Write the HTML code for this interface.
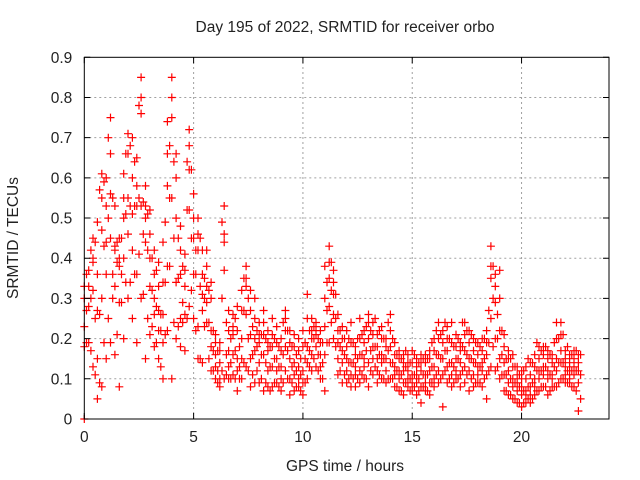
<!DOCTYPE html>
<html><head><meta charset="utf-8">
<style>
html,body{margin:0;padding:0;background:#fff;}
svg{display:block;font-family:"Liberation Sans",Arial,sans-serif;}
</style></head>
<body>
<svg id="chart" width="640" height="480" viewBox="0 0 640 480" xmlns="http://www.w3.org/2000/svg">
<rect x="0" y="0" width="640" height="480" fill="#fff"/>
<text x="345" y="32" font-size="15.5" text-anchor="middle" fill="#222">Day 195 of 2022, SRMTID for receiver orbo</text>
<text x="345" y="471" font-size="15.5" text-anchor="middle" fill="#222">GPS time / hours</text>
<text x="0" y="0" font-size="15.5" text-anchor="middle" fill="#222" transform="translate(18,238) rotate(-90)">SRMTID / TECUs</text>
<g id="grid"></g>
<g id="marks"></g>
<rect x="84.3" y="57.3" width="524.7" height="361.7" fill="none" stroke="#000" stroke-width="1"/>
<g id="ticks"></g>
</svg>
<script>
const xTicks = [0, 5, 10, 15, 20];
const yTicks = [0, 0.1, 0.2, 0.3, 0.4, 0.5, 0.6, 0.7, 0.8, 0.9];
const hours = [0.0,0.2,0.4,0.6,0.8,1.0,1.2,1.4,1.6,1.8,2.0,2.2,2.4,2.6,2.8,3.0,3.2,3.4,3.6,3.8,4.0,4.2,4.4,4.6,4.8,5.0,5.2,5.4,5.6,5.8,6.0,6.2,6.4,6.6,6.8,7.0,7.2,7.4,7.6,7.8,8.0,8.2,8.4,8.6,8.8,9.0,9.2,9.4,9.6,9.8,10.0,10.2,10.4,10.6,10.8,11.0,11.2,11.4,11.6,11.8,12.0,12.2,12.4,12.6,12.8,13.0,13.2,13.4,13.6,13.8,14.0,14.2,14.4,14.6,14.8,15.0,15.2,15.4,15.6,15.8,16.0,16.2,16.4,16.6,16.8,17.0,17.2,17.4,17.6,17.8,18.0,18.2,18.4,18.6,18.8,19.0,19.2,19.4,19.6,19.8,20.0,20.2,20.4,20.6,20.8,21.0,21.2,21.4,21.6,21.8,22.0,22.2,22.4,22.6];
const srmtidHigh = [0.23,0.37,0.45,0.49,0.61,0.60,0.75,0.53,0.45,0.61,0.71,0.70,0.65,0.85,0.58,0.52,0.42,0.39,0.44,0.74,0.85,0.66,0.48,0.41,0.72,0.56,0.50,0.42,0.42,0.34,0.21,0.19,0.53,0.27,0.26,0.28,0.32,0.38,0.32,0.30,0.24,0.27,0.22,0.25,0.23,0.20,0.27,0.22,0.21,0.20,0.22,0.31,0.25,0.24,0.22,0.38,0.43,0.37,0.26,0.23,0.22,0.24,0.18,0.25,0.22,0.26,0.24,0.21,0.23,0.20,0.26,0.19,0.17,0.16,0.16,0.17,0.15,0.16,0.16,0.17,0.20,0.24,0.22,0.23,0.24,0.21,0.19,0.24,0.22,0.20,0.19,0.20,0.22,0.43,0.36,0.37,0.21,0.17,0.16,0.13,0.12,0.13,0.14,0.16,0.18,0.18,0.17,0.16,0.24,0.24,0.17,0.16,0.17,0.16];
const srmtidUpper = [0.30,0.33,0.40,0.36,0.55,0.44,0.66,0.43,0.40,0.55,0.66,0.60,0.58,0.80,0.53,0.46,0.36,0.33,0.34,0.66,0.80,0.60,0.42,0.37,0.68,0.50,0.46,0.36,0.38,0.30,0.19,0.17,0.46,0.22,0.23,0.22,0.27,0.35,0.27,0.25,0.21,0.24,0.19,0.21,0.19,0.17,0.25,0.19,0.18,0.17,0.18,0.25,0.22,0.23,0.19,0.30,0.39,0.34,0.22,0.20,0.18,0.19,0.16,0.20,0.19,0.24,0.21,0.18,0.20,0.18,0.22,0.16,0.15,0.14,0.14,0.14,0.13,0.14,0.14,0.15,0.17,0.20,0.19,0.20,0.19,0.18,0.17,0.21,0.19,0.17,0.16,0.17,0.19,0.38,0.33,0.30,0.18,0.15,0.13,0.11,0.10,0.10,0.11,0.13,0.15,0.16,0.15,0.14,0.20,0.21,0.15,0.14,0.15,0.14];
const srmtidMid = [0.18,0.28,0.32,0.27,0.47,0.53,0.56,0.33,0.29,0.40,0.55,0.51,0.53,0.76,0.50,0.40,0.30,0.27,0.26,0.58,0.75,0.50,0.36,0.33,0.62,0.45,0.42,0.31,0.33,0.22,0.16,0.10,0.44,0.17,0.16,0.15,0.20,0.33,0.21,0.20,0.19,0.21,0.17,0.18,0.15,0.13,0.22,0.15,0.14,0.13,0.12,0.18,0.20,0.21,0.16,0.23,0.35,0.31,0.19,0.17,0.15,0.14,0.13,0.16,0.15,0.20,0.18,0.15,0.16,0.15,0.18,0.13,0.12,0.12,0.12,0.11,0.11,0.12,0.11,0.12,0.13,0.16,0.15,0.17,0.14,0.15,0.14,0.17,0.15,0.14,0.13,0.14,0.16,0.35,0.29,0.22,0.14,0.12,0.10,0.09,0.08,0.07,0.08,0.10,0.12,0.13,0.12,0.11,0.15,0.17,0.13,0.12,0.13,0.12];
const srmtidLowMid = [0.33,0.33,0.39,0.15,0.30,0.36,0.45,0.42,0.38,0.50,0.46,0.42,0.36,0.53,0.44,0.33,0.26,0.22,0.19,0.38,0.55,0.34,0.25,0.26,0.52,0.36,0.23,0.27,0.29,0.18,0.13,0.14,0.37,0.13,0.21,0.12,0.15,0.26,0.15,0.17,0.14,0.16,0.12,0.13,0.12,0.10,0.18,0.10,0.11,0.10,0.09,0.14,0.16,0.18,0.13,0.16,0.28,0.26,0.15,0.14,0.12,0.11,0.11,0.12,0.13,0.14,0.15,0.12,0.14,0.12,0.14,0.11,0.10,0.09,0.10,0.09,0.09,0.08,0.09,0.09,0.10,0.12,0.11,0.13,0.11,0.12,0.11,0.13,0.12,0.11,0.11,0.12,0.11,0.25,0.20,0.15,0.11,0.09,0.08,0.07,0.06,0.06,0.06,0.08,0.10,0.11,0.10,0.10,0.12,0.14,0.11,0.10,0.11,0.09];
const srmtidLow = [0.00,0.19,0.13,0.05,0.08,0.15,0.19,0.16,0.08,0.20,0.30,0.25,0.19,0.30,0.15,0.21,0.18,0.15,0.10,0.22,0.10,0.20,0.18,0.17,0.28,0.25,0.15,0.14,0.24,0.12,0.10,0.08,0.10,0.10,0.11,0.07,0.10,0.13,0.08,0.09,0.09,0.07,0.08,0.08,0.09,0.07,0.12,0.06,0.07,0.08,0.06,0.10,0.12,0.13,0.10,0.07,0.19,0.20,0.11,0.09,0.09,0.08,0.08,0.09,0.10,0.08,0.11,0.09,0.10,0.09,0.10,0.08,0.07,0.06,0.08,0.07,0.06,0.04,0.07,0.06,0.08,0.09,0.03,0.09,0.08,0.10,0.08,0.09,0.07,0.08,0.09,0.08,0.05,0.13,0.12,0.10,0.07,0.06,0.05,0.04,0.03,0.04,0.04,0.06,0.07,0.08,0.06,0.08,0.08,0.10,0.09,0.09,0.08,0.02];
const hoursB = [0.1,0.3,0.5,0.7,0.9,1.1,1.3,1.5,1.7,1.9,2.1,2.3,2.5,2.7,2.9,3.1,3.3,3.5,3.7,3.9,4.1,4.3,4.5,4.7,4.9,5.1,5.3,5.5,5.7,5.9,6.1,6.3,6.5,6.7,6.9,7.1,7.3,7.5,7.7,7.9,8.1,8.3,8.5,8.7,8.9,9.1,9.3,9.5,9.7,9.9,10.1,10.3,10.5,10.7,10.9,11.1,11.3,11.5,11.7,11.9,12.1,12.3,12.5,12.7,12.9,13.1,13.3,13.5,13.7,13.9,14.1,14.3,14.5,14.7,14.9,15.1,15.3,15.5,15.7,15.9,16.1,16.3,16.5,16.7,16.9,17.1,17.3,17.5,17.7,17.9,18.1,18.3,18.5,18.7,18.9,19.1,19.3,19.5,19.7,19.9,20.1,20.3,20.5,20.7,20.9,21.1,21.3,21.5,21.7,21.9,22.1,22.3,22.5,22.7];
const srmtidHighB = [0.36,0.42,0.44,0.57,0.59,0.70,0.55,0.44,0.45,0.66,0.68,0.64,0.78,0.54,0.51,0.40,0.37,0.26,0.49,0.68,0.64,0.45,0.38,0.64,0.62,0.42,0.45,0.35,0.32,0.22,0.17,0.49,0.24,0.20,0.25,0.18,0.35,0.30,0.23,0.22,0.21,0.20,0.18,0.20,0.18,0.24,0.22,0.18,0.16,0.15,0.19,0.22,0.23,0.20,0.19,0.34,0.39,0.31,0.22,0.20,0.20,0.19,0.20,0.21,0.23,0.22,0.25,0.22,0.20,0.24,0.20,0.16,0.15,0.17,0.14,0.16,0.14,0.15,0.15,0.19,0.22,0.21,0.24,0.20,0.18,0.20,0.24,0.22,0.21,0.19,0.18,0.20,0.27,0.38,0.26,0.22,0.15,0.15,0.13,0.11,0.12,0.15,0.14,0.19,0.17,0.18,0.16,0.19,0.20,0.21,0.18,0.16,0.17,0.16];
const srmtidMidB = [0.27,0.30,0.25,0.26,0.43,0.50,0.36,0.39,0.36,0.51,0.53,0.53,0.55,0.46,0.42,0.32,0.28,0.22,0.34,0.55,0.45,0.35,0.29,0.52,0.45,0.36,0.33,0.30,0.24,0.17,0.12,0.30,0.16,0.14,0.17,0.13,0.27,0.20,0.16,0.18,0.16,0.14,0.13,0.15,0.13,0.16,0.17,0.13,0.12,0.11,0.15,0.17,0.20,0.16,0.14,0.27,0.32,0.25,0.18,0.16,0.14,0.14,0.15,0.16,0.17,0.17,0.18,0.16,0.15,0.17,0.14,0.12,0.11,0.13,0.10,0.11,0.10,0.11,0.11,0.13,0.16,0.15,0.17,0.14,0.13,0.15,0.18,0.16,0.15,0.14,0.13,0.15,0.19,0.30,0.20,0.16,0.11,0.10,0.09,0.08,0.07,0.08,0.09,0.12,0.12,0.13,0.11,0.13,0.14,0.14,0.12,0.12,0.12,0.11];
const srmtidLowB = [0.19,0.17,0.11,0.09,0.19,0.25,0.30,0.21,0.29,0.34,0.34,0.36,0.41,0.31,0.25,0.23,0.19,0.13,0.21,0.38,0.24,0.23,0.24,0.25,0.32,0.22,0.15,0.23,0.15,0.12,0.09,0.12,0.11,0.10,0.10,0.10,0.14,0.12,0.11,0.12,0.10,0.09,0.07,0.09,0.08,0.09,0.10,0.09,0.08,0.07,0.09,0.13,0.15,0.12,0.10,0.19,0.24,0.18,0.12,0.11,0.10,0.10,0.10,0.11,0.10,0.12,0.13,0.11,0.10,0.10,0.10,0.08,0.07,0.09,0.07,0.08,0.07,0.08,0.07,0.09,0.11,0.10,0.12,0.10,0.09,0.10,0.12,0.11,0.10,0.09,0.09,0.10,0.12,0.18,0.13,0.11,0.07,0.06,0.05,0.04,0.04,0.05,0.05,0.07,0.08,0.08,0.07,0.08,0.09,0.10,0.09,0.08,0.07,0.05];

const X0 = 84.3, X1 = 609, Y0 = 419, Y1 = 57.3, XMAX = 24, YMAX = 0.9;
function xs(h){ return X0 + (h / XMAX) * (X1 - X0); }
function ys(v){ return Y0 - (v / YMAX) * (Y0 - Y1); }
const NS = 'http://www.w3.org/2000/svg';
const grid = document.getElementById('grid');
const ticks = document.getElementById('ticks');
const marks = document.getElementById('marks');
function mk(tag, attrs, parent){
  const e = document.createElementNS(NS, tag);
  for (const k in attrs) e.setAttribute(k, attrs[k]);
  parent.appendChild(e);
  return e;
}
xTicks.forEach(t => {
  const x = xs(t);
  if (t > 0) {
    const g = mk('line', {x1:x, y1:Y0, x2:x, y2:Y1, stroke:'#a0a0a0', 'stroke-width':1, 'stroke-dasharray':'2,3'}, grid);
    
    
  }
  const tk = mk('path', {d:`M${x},${Y0}v-6M${x},${Y1}v6`, stroke:'#000', 'stroke-width':1}, ticks);
  
  
  const lb = mk('text', {x:x, y:Y0 + 23, 'font-size':15.5, 'text-anchor':'middle', fill:'#222'}, ticks);
  lb.textContent = String(t);
  
  
});
yTicks.forEach(t => {
  const y = ys(t);
  if (t > 0 && t < YMAX) {
    const g = mk('line', {x1:X0, y1:y, x2:X1, y2:y, stroke:'#a0a0a0', 'stroke-width':1, 'stroke-dasharray':'2,3'}, grid);
    
    
  }
  const tk = mk('path', {d:`M${X0},${y}h6M${X1},${y}h-6`, stroke:'#000', 'stroke-width':1}, ticks);
  
  
  const lb = mk('text', {x:X0 - 12, y:y + 5.5, 'font-size':15.5, 'text-anchor':'end', fill:'#222'}, ticks);
  lb.textContent = t === 0 ? '0' : t.toFixed(1);
  
  
});
let d = '';
function addSeries(hrs, arr){
  arr.forEach((v, i) => {
    const x = xs(hrs[i]), y = ys(v);
    d += `M${(x-4).toFixed(1)},${y.toFixed(1)}h8M${x.toFixed(1)},${(y-4).toFixed(1)}v8`;
  });
}
[srmtidHigh, srmtidUpper, srmtidMid, srmtidLowMid, srmtidLow].forEach(a => addSeries(hours, a));
[srmtidHighB, srmtidMidB, srmtidLowB].forEach(a => addSeries(hoursB, a));
const pts = mk('path', {d:d, stroke:'#ff0000', 'stroke-width':1.2, fill:'none'}, marks);


</script>
</body></html>
